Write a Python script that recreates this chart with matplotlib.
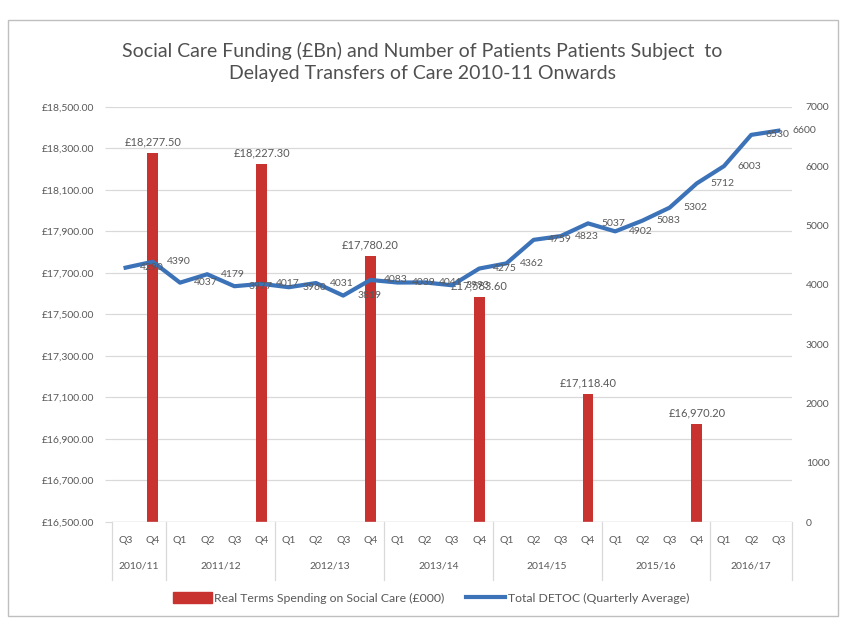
import matplotlib
matplotlib.use("Agg")
import matplotlib.pyplot as plt
from matplotlib.patches import Rectangle
from matplotlib.lines import Line2D

plt.rcParams['font.family'] = ['Lato', 'DejaVu Sans']

quarters = ["Q3", "Q4",
            "Q1", "Q2", "Q3", "Q4",
            "Q1", "Q2", "Q3", "Q4",
            "Q1", "Q2", "Q3", "Q4",
            "Q1", "Q2", "Q3", "Q4",
            "Q1", "Q2", "Q3", "Q4",
            "Q1", "Q2", "Q3"]
years = ["2010/11", "2011/12", "2012/13", "2013/14", "2014/15", "2015/16", "2016/17"]
year_sizes = [2, 4, 4, 4, 4, 4, 3]

detoc = [4290, 4390, 4037, 4179, 3977, 4017, 3960, 4031, 3819, 4083,
         4039, 4041, 3993, 4275, 4362, 4759, 4823, 5037, 4902, 5083,
         5302, 5712, 6003, 6530, 6600]

bar_idx = [1, 5, 9, 13, 17, 21]
spending = [18277.50, 18227.30, 17780.20, 17583.60, 17118.40, 16970.20]

left_ticks = [16500, 16700, 16900, 17100, 17300, 17500, 17700, 17900, 18100, 18300, 18500]
right_ticks = [0, 1000, 2000, 3000, 4000, 5000, 6000, 7000]

title = "Social Care Funding (£Bn) and Number of Patients Patients Subject  to\nDelayed Transfers of Care 2010-11 Onwards"
bar_label = "Real Terms Spending on Social Care (£000)"
line_label = "Total DETOC (Quarterly Average)"

TXT = "#595959"
RED = "#C8322F"
BLUE = "#3C72B8"
GRID = "#D9D9D9"

fig = plt.figure(figsize=(8.45, 6.22), dpi=100)
fig.patches.append(Rectangle((8/845, 1-616/622), 830/845, 596/622, transform=fig.transFigure,
                             fill=False, edgecolor="#BFBFBF", linewidth=1))

ax = fig.add_axes([112/845, 1-522/622, 680/845, 415/622])
ax2 = ax.twinx()

ax.set_xlim(-0.5, len(quarters) - 0.5)
ax.set_ylim(16500, 18500)
ax2.set_ylim(0, 7000)

ax.set_yticks(left_ticks)
ax.set_yticklabels([f"£{t:,.2f}" for t in left_ticks])
ax2.set_yticks(right_ticks)
ax2.set_yticklabels([str(t) for t in right_ticks])
for a in (ax, ax2):
    for s in a.spines.values():
        s.set_visible(False)
ax.grid(axis='y', color=GRID, linewidth=0.9)
ax.set_axisbelow(True)
ax.tick_params(axis='y', length=5, color=GRID, labelsize=7.5, labelcolor=TXT, pad=8)
ax2.tick_params(axis='y', length=0, labelsize=7.5, labelcolor=TXT, pad=10)

# bars
ax.bar(bar_idx, [v - 16500 for v in spending], bottom=16500, width=0.4, color=RED, zorder=2)
for i, v in zip(bar_idx, spending):
    ax.annotate(f"£{v:,.2f}", (i, v), xytext=(0, 4), textcoords="offset points",
                ha='center', va='bottom', fontsize=8, color=TXT)

# line
x = list(range(len(detoc)))
ax2.plot(x, detoc, color=BLUE, linewidth=3, zorder=3, solid_joinstyle='round')
for i, v in zip(x, detoc):
    ax2.annotate(str(v), (i, v), xytext=(10, 0), textcoords="offset points",
                 ha='left', va='center', fontsize=7.5, color=TXT, zorder=4)

# x axis quarters
ax.set_xticks(x)
ax.set_xticklabels(quarters)
ax.tick_params(axis='x', length=0, labelsize=7.5, labelcolor=TXT, pad=10)
ax.axhline(16500, color=GRID, linewidth=1)

# year labels & separators
bt = ax.get_xaxis_transform()
start = -0.5
seps = [start]
for y, n in zip(years, year_sizes):
    mid = start + n / 2
    ax.text(mid, -0.105, y, transform=bt, ha='center', va='center', fontsize=7.5, color=TXT)
    start += n
    seps.append(start)
for s in seps:
    ax.add_line(Line2D([s, s], [0, -0.14], transform=bt, color=GRID, linewidth=0.9, clip_on=False))

# title
fig.text(0.5, 1-62/622, title, ha='center', va='center', fontsize=14, color="#505050",
         linespacing=1.35)

# legend
handles = [Rectangle((0, 0), 1, 1, color=RED),
           Line2D([0], [0], color=BLUE, linewidth=3)]
fig.legend(handles, [bar_label, line_label], loc='center', bbox_to_anchor=(0.51, 1-598/622),
           ncol=2, frameon=False, fontsize=8.8, labelcolor=TXT, handlelength=3.2,
           handleheight=0.9, columnspacing=1.8, handletextpad=0.2)

fig.savefig("out.png", dpi=100, facecolor="white")
